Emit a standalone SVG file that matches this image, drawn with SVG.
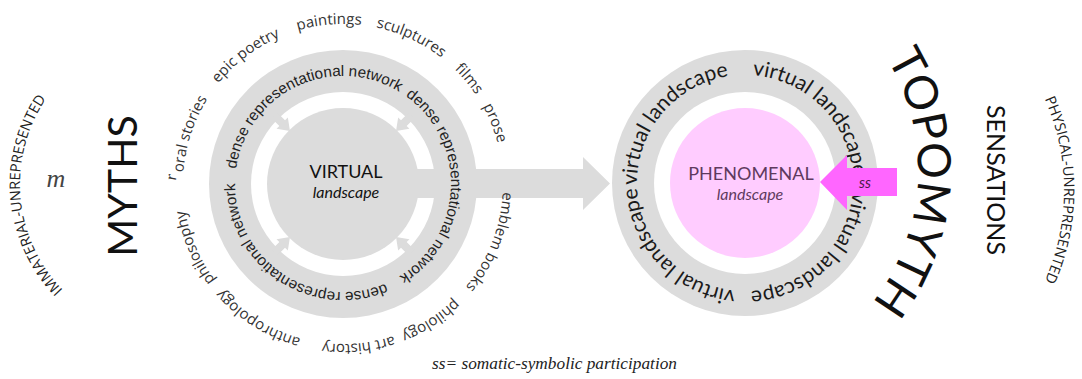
<svg xmlns="http://www.w3.org/2000/svg" width="1082" height="379" viewBox="0 0 1082 379">
<style>
.gray{fill:#dcdcdc}
.ring{font-family:"Liberation Sans",Arial,sans-serif;font-size:15.3px;fill:#222}
.outer{font-family:"Open Sans",sans-serif;font-size:15px;fill:#333}
.vring{font-family:Lato,"Open Sans",sans-serif;font-size:21px;fill:#1a1a1a}
.title{font-family:Lato,"Open Sans",sans-serif;fill:#111}
.side{font-family:"Open Sans",sans-serif;font-size:14.5px;fill:#222}
</style>
<defs>
<path id="leftRingPath" d="M451,184 A108,108 0 1 1 235,184 A108,108 0 1 1 451,184 A108,108 0 1 1 235,184 A108,108 0 1 1 451,184"/>
<path id="outerArcPath" d="M503,184 A160,160 0 1 1 183,184 A160,160 0 1 1 503,184 A160,160 0 1 1 183,184"/>
<path id="rArcPath" d="M510,184 A167,167 0 1 1 176,184 A167,167 0 1 1 510,184"/>
<path id="rightRingPath" d="M853,183 A108,108 0 1 1 637,183 A108,108 0 1 1 853,183 A108,108 0 1 1 637,183"/>
<path id="immPath" d="M84.8,308.5 A152,152 0 0 1 64.5,76.5"/>
<path id="physPath" d="M1033.9,77.5 A225,225 0 0 1 1033.9,302.5"/>
<path id="topoPath" d="M876,42.7 A214,214 0 0 1 859.2,317.3"/>
<polygon id="smallArrow" points="97,-4 86,-4 86,-8 75,0 86,8 86,4 97,4"/>
</defs>

<g id="left-ring">
<circle cx="343" cy="184" r="134" class="gray"/>
<circle cx="343" cy="184" r="92" fill="#fff"/>
<circle cx="343" cy="184" r="76" class="gray"/>
</g>

<g id="right-ring">
<circle cx="745" cy="183" r="133" class="gray"/>
<circle cx="745" cy="183" r="91" fill="#fff"/>
<circle cx="745" cy="183" r="75" fill="#ffccff"/>
</g>

<g id="connectors">
<polygon class="gray" points="400,169 583,169 583,157 610,183.5 583,210 583,198 400,198"/>
<use href="#smallArrow" class="gray" transform="translate(343,184) rotate(225)"/>
<use href="#smallArrow" class="gray" transform="translate(343,184) rotate(315)"/>
<use href="#smallArrow" class="gray" transform="translate(343,184) rotate(45)"/>
<use href="#smallArrow" class="gray" transform="translate(343,184) rotate(135)"/>
</g>

<g id="left-ring-text" class="ring">
<text><textPath href="#leftRingPath" startOffset="126">dense representational network</textPath></text>
<text><textPath href="#leftRingPath" startOffset="354">dense representational network</textPath></text>
<text><textPath href="#leftRingPath" startOffset="575">dense representational network</textPath></text>
</g>

<g id="virtual-node">
<text x="346" y="178" text-anchor="middle" class="title" font-size="18">VIRTUAL</text>
<text x="346" y="198" text-anchor="middle" class="title" font-size="16" font-style="italic">landscape</text>
</g>

<g id="outer-arc-text" class="outer">
<text><textPath href="#outerArcPath" startOffset="8">emblem books</textPath></text>
<text><textPath href="#outerArcPath" startOffset="128">philology</textPath></text>
<text><textPath href="#outerArcPath" startOffset="200">art history</textPath></text>
<text><textPath href="#outerArcPath" startOffset="294">anthropology</textPath></text>
<text><textPath href="#outerArcPath" startOffset="399">philosophy</textPath></text>
<text font-family="'Liberation Serif',serif" font-style="italic" font-size="16"><textPath href="#rArcPath" startOffset="528">r</textPath></text>
<text><textPath href="#outerArcPath" startOffset="514">oral stories</textPath></text>
<text><textPath href="#outerArcPath" startOffset="611">epic poetry</textPath></text>
<text><textPath href="#outerArcPath" startOffset="708">paintings</textPath></text>
<text><textPath href="#outerArcPath" startOffset="787">sculptures</textPath></text>
<text><textPath href="#outerArcPath" startOffset="877">films</textPath></text>
<text><textPath href="#outerArcPath" startOffset="924">prose</textPath></text>
</g>

<g id="right-ring-text" class="vring">
<text><textPath href="#rightRingPath" startOffset="9">virtual landscape</textPath></text>
<text><textPath href="#rightRingPath" startOffset="179">virtual landscape</textPath></text>
<text><textPath href="#rightRingPath" startOffset="337">virtual landscape</textPath></text>
<text><textPath href="#rightRingPath" startOffset="516">virtual landscape</textPath></text>
</g>

<g id="phenomenal-node">
<text x="751" y="180" text-anchor="middle" font-family="Lato,'Open Sans',sans-serif" font-size="18" fill="#5e3a5e">PHENOMENAL</text>
<text x="750" y="200" text-anchor="middle" font-family="Lato,'Open Sans',sans-serif" font-size="16" font-style="italic" fill="#5e3a5e">landscape</text>
</g>

<g id="ss-arrow">
<polygon fill="#ff66ff" points="897,168 847,168 847,155 820,182 847,210 847,196 897,196"/>
<text x="865" y="188" text-anchor="middle" font-family="Lato,'Open Sans',sans-serif" font-size="15" font-style="italic" fill="#4a1a4a">ss</text>
</g>

<g id="myths">
<text class="title" font-size="41" text-anchor="middle" transform="translate(137,186) rotate(-90)">MYTHS</text>
<text x="56" y="187" text-anchor="middle" font-family="'Liberation Serif',serif" font-style="italic" font-size="26" fill="#444">m</text>
<text class="side"><textPath href="#immPath" startOffset="50%" text-anchor="middle">IMMATERIAL-UNREPRESENTED</textPath></text>
</g>

<g id="topomyth">
<text class="title" font-size="46"><textPath href="#topoPath" startOffset="50%" text-anchor="middle">TOPOMYTH</textPath></text>
</g>

<g id="sensations">
<text class="title" font-size="25" text-anchor="middle" transform="translate(987,180) rotate(90)">SENSATIONS</text>
<text class="side"><textPath href="#physPath" startOffset="50%" text-anchor="middle">PHYSICAL-UNREPRESENTED</textPath></text>
</g>

<g id="caption">
<text x="432" y="369" font-family="'Liberation Serif',serif" font-style="italic" font-size="17" fill="#222" textLength="245" lengthAdjust="spacingAndGlyphs">ss= somatic-symbolic participation</text>
</g>
</svg>
